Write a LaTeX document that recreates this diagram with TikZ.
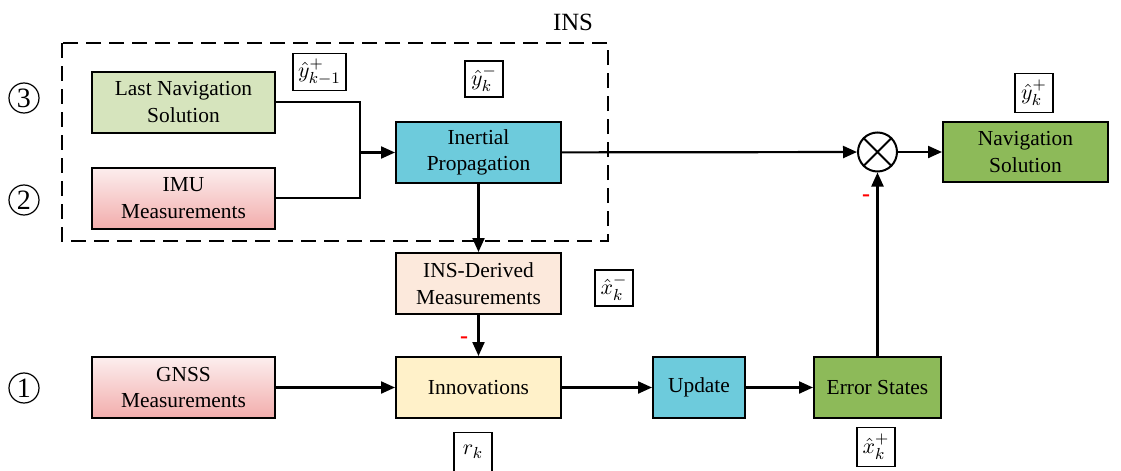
\documentclass[tikz,border=0pt]{standalone}
\usepackage{fontspec}
\setmainfont{Liberation Serif}
\usetikzlibrary{arrows.meta}
\definecolor{lastgreen}{HTML}{D6E4BD}
\definecolor{redtop}{HTML}{FCEEEE}
\definecolor{redbot}{HTML}{F2ADAC}
\definecolor{propcyan}{HTML}{6DCBDC}
\definecolor{peach}{HTML}{FCE9DC}
\definecolor{innovyellow}{HTML}{FFF1C9}
\definecolor{solgreen}{HTML}{8DBA59}
\begin{document}
\begin{tikzpicture}[x=0.5pt,y=-0.5pt,line width=1.1pt,>={Triangle[length=7pt,width=6pt]},
    block/.style={rectangle,draw,line width=1pt,align=center,inner sep=1pt,
        font=\fontsize{10.7}{13.3}\selectfont,minimum height=30.5pt},
    wide block/.style={block,minimum width=91.5pt},
    mid block/.style={block,minimum width=82.5pt},
    sensor/.style={wide block,top color=redtop,bottom color=redbot},
    label box/.style={rectangle,draw,line width=0.8pt,inner sep=2.5pt,minimum width=19pt,
        minimum height=16pt,font=\fontsize{11}{13}\selectfont},
    tall label/.style={label box,minimum height=19.5pt},
    step num/.style={circle,draw,line width=0.6pt,minimum size=15pt,inner sep=0pt,font=\fontsize{14}{14}\selectfont},
    minus/.style={text=red,font=\bfseries\fontsize{12}{12}\selectfont,inner sep=0pt}]
    \useasboundingbox (0,0) rectangle (1121,471);

    % INS part
    \draw[dashed,dash pattern=on 7.5pt off 4pt] (62,43) rectangle (608,241);
    \node[font=\fontsize{12.4}{14}\selectfont] at (573,22) (ins) {INS};

    \node[wide block,fill=lastgreen] at (183.5,102) (lastnav) {Last Navigation\\Solution};
    \node[sensor] at (183.5,198) (imu) {IMU\\Measurements};
    \node[mid block,fill=propcyan] at (478.5,152.5) (inertial) {Inertial\\Propagation};
    \coordinate (join) at (360,152.5);

    \node[mid block,fill=peach] at (478.5,283.5) (insder) {INS-Derived\\Measurements};
    \node[sensor] at (183.5,387.5) (gnss) {GNSS\\Measurements};
    \node[mid block,fill=innovyellow] at (478.5,387.5) (innov) {Innovations};
    \node[block,minimum width=46pt,fill=propcyan] at (699,387.5) (update) {Update};
    \node[block,minimum width=63.5pt,fill=solgreen] at (877.5,387.5) (errstates) {Error States};
    \node[circle,draw,line width=1pt,minimum size=19.5pt,inner sep=0pt] at (877.5,152) (sum) {};
    \draw[line width=0.9pt] (sum.45) -- (sum.225) (sum.135) -- (sum.315);
    \node[mid block,minimum height=30pt,fill=solgreen] at (1025.5,152) (navsol) {Navigation\\Solution};

    % labels
    \node[label box] at (319.5,72) (ylast) {$\hat{y}^{+}_{k-1}$};
    \node[label box] at (484,79) (yminus) {$\hat{y}^{-}_{k}$};
    \node[label box] at (614,288) (xminus) {$\hat{x}^{-}_{k}$};
    \node[tall label] at (473,452) (rk) {$r_{k}$};
    \node[tall label] at (876,447) (xplus) {$\hat{x}^{+}_{k}$};
    \node[tall label] at (1034,93) (yplus) {$\hat{y}^{+}_{k}$};

    \node[step num] at (24,98) (three) {3};
    \node[step num] at (24,200) (two) {2};
    \node[step num] at (24,388) (one) {1};

    \node[minus] at (464,340) (minusa) {-};
    \node[minus] at (866,198) (minusb) {-};

    % connectors
    \draw (lastnav.east) -| (join);
    \draw (imu.east) -| (join);
    \draw[->] (join) -- (inertial);
    \draw[->] (inertial) -- (insder);
    \draw[->] (insder) -- (innov);
    \draw[->] (gnss) -- (innov);
    \draw[->] (innov) -- (update);
    \draw[->] (update) -- (errstates);
    \draw[->] (errstates) -- (sum);
    \draw[->] (inertial) -- (sum);
    \draw[->] (sum) -- (navsol);
\end{tikzpicture}
\end{document}
